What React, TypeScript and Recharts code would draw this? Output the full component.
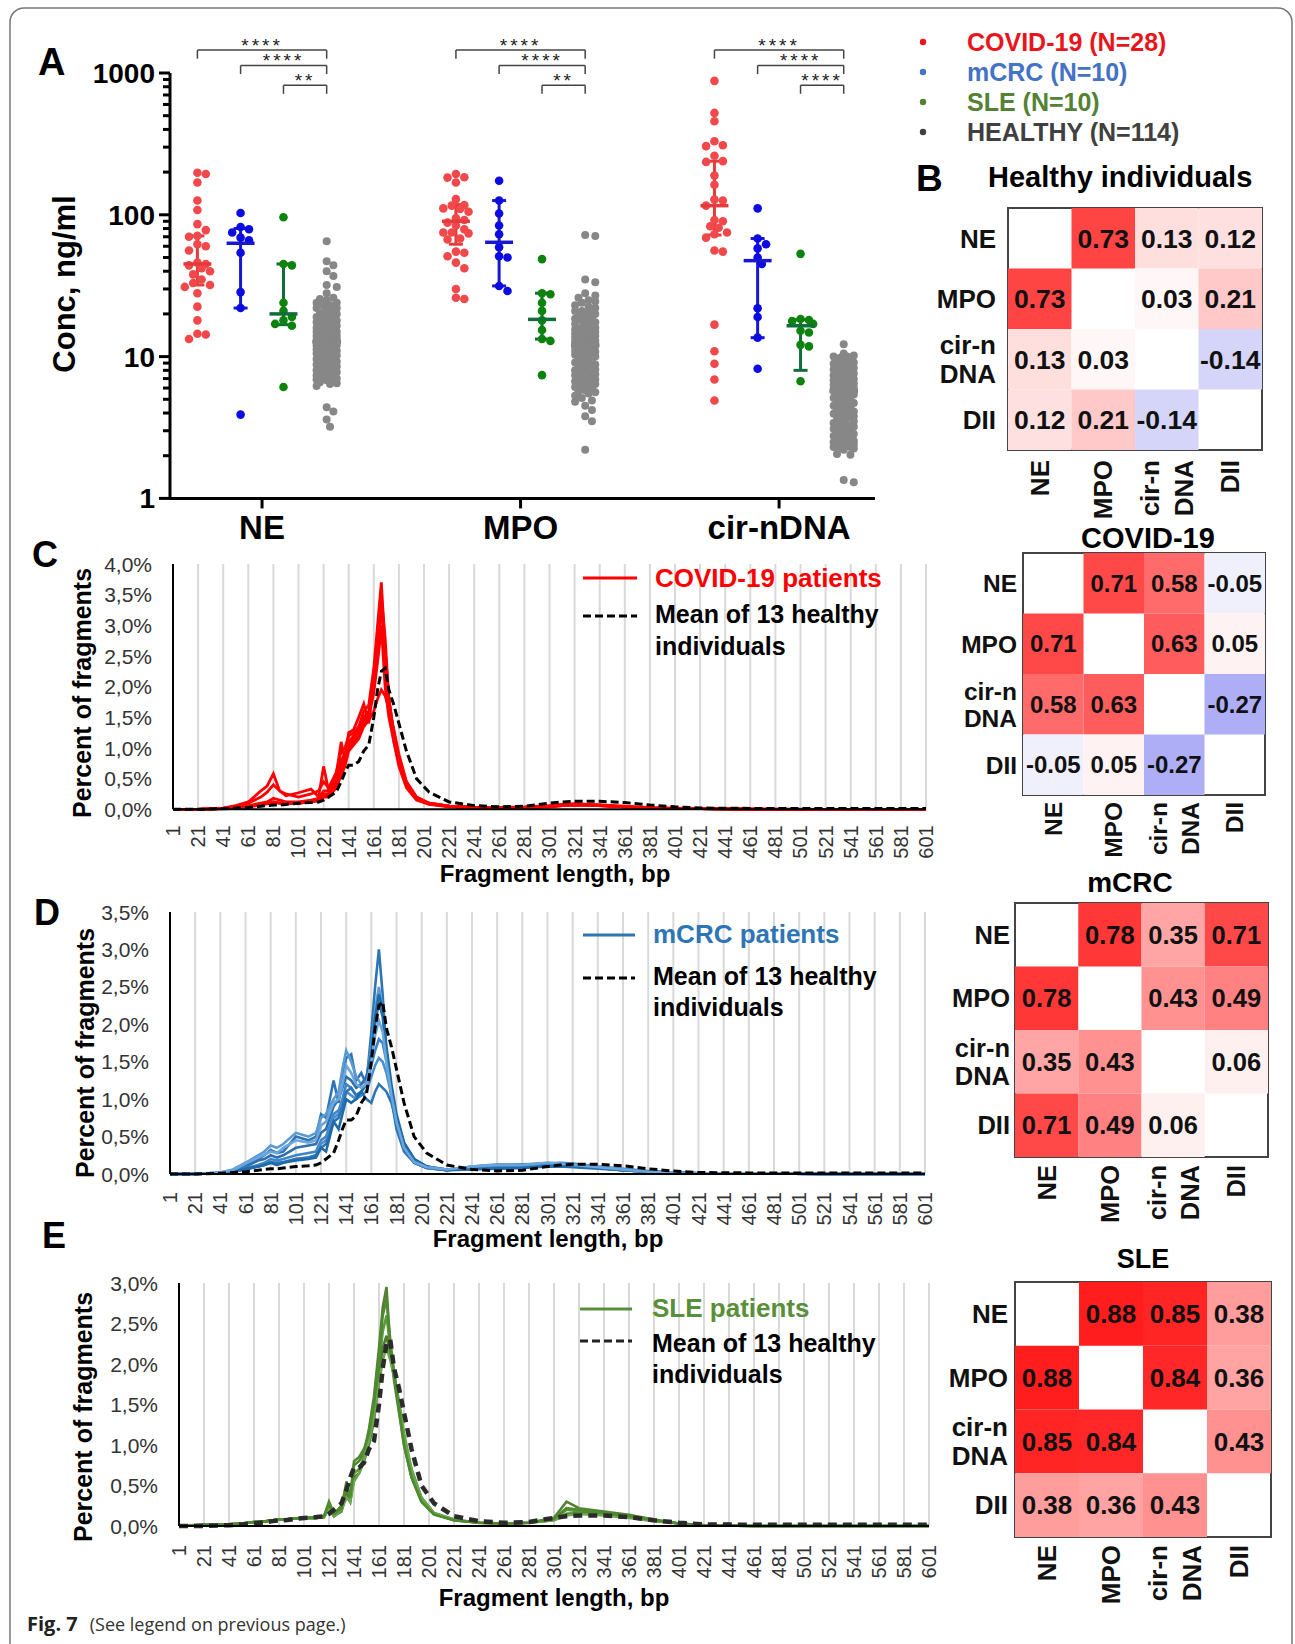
import React from 'react';
import {
  ScatterChart,
  Scatter,
  LineChart,
  Line,
  XAxis,
  YAxis,
  CartesianGrid,
  ErrorBar,
  ReferenceLine,
  ReferenceArea,
} from 'recharts';

const FONT = "'Liberation Sans', Arial, Helvetica, sans-serif";

// ---------------- Panel A: plasma concentrations (ng/ml) ----------------
const MARKERS = ['NE', 'MPO', 'cir-nDNA'];
const COHORTS = ['COVID-19 (N=28)', 'mCRC (N=10)', 'SLE (N=10)', 'HEALTHY (N=114)'];

const RED_NE = [198, 194, 169, 126, 108, 86, 78, 71, 70, 62, 60, 56, 46, 45, 44, 42, 40, 38, 35, 33, 32, 31, 28, 22.5, 18, 14.5, 14.3, 13.3];
const BLUE_NE = [103, 82, 79, 75, 69, 66, 54, 28.5, 22, 3.9];
const GREEN_NE = [96, 45, 44, 24, 21, 19, 18, 17, 16.5, 6.1];
const GRAY_NE = [
  65, 47, 44, 40, 37, 32, 31, 28, 26, 25.5, 25, 24, 24, 23, 23, 22, 22, 21, 21, 20.5,
  20, 20, 19.5, 19, 19, 18.5, 18, 18, 17.5, 17.5, 17, 17, 16.5, 16.5, 16, 16, 15.5, 15.5, 15, 15,
  15, 14.5, 14.5, 14, 14, 14, 13.8, 13.6, 13.5, 13.4, 13.2, 13.1, 13, 13, 12.9, 12.8, 12.8, 12.7, 12.7, 12.7,
  12.6, 12.5, 12.4, 12.3, 12.2, 12, 12, 11.8, 11.6, 11.5, 11.4, 11.2, 11, 11, 10.8, 10.6, 10.5, 10.4, 10.2, 10,
  10, 9.8, 9.6, 9.5, 9.4, 9.2, 9, 9, 8.8, 8.6, 8.5, 8.4, 8.2, 8, 8, 7.8, 7.7, 7.6, 7.5, 7.4,
  7.2, 7, 7, 6.9, 6.8, 6.7, 6.6, 6.5, 6.4, 6.2, 4.4, 4.1, 3.6, 3.2,
];

const RED_MPO = [194, 184, 183, 169, 129, 117, 116, 111, 110, 105, 95, 92, 88, 84, 79, 75, 75, 74, 68, 67, 55, 54, 51, 46, 42, 30, 26, 25.5];
const BLUE_MPO = [174, 126, 102, 84, 73, 59, 51, 50, 31.5, 29];
const GREEN_MPO = [48.7, 28, 27.5, 24, 21, 18, 15.4, 13.3, 12.9, 7.4];
const GRAY_MPO = [
  72, 71, 35, 33.5, 28, 27, 26, 25, 24.5, 24, 23, 22.5, 22, 21, 21, 20.5, 20, 19.5, 19, 19,
  18.5, 18, 18, 17.5, 17, 17, 16.5, 16, 16, 15.5, 15.5, 15, 15, 14.5, 14.5, 14, 14, 13.8, 13.6, 13.5,
  13.3, 13.2, 13, 13, 12.9, 12.8, 12.7, 12.6, 12.5, 12.4, 12.3, 12.2, 12.2, 12.1, 12, 12, 12, 11.9, 11.9, 11.8,
  11.7, 11.5, 11.4, 11.2, 11, 11, 10.8, 10.6, 10.5, 10.3, 10.1, 10, 9.8, 9.6, 9.5, 9.3, 9.1, 9, 8.8, 8.6,
  8.5, 8.3, 8.1, 8, 7.8, 7.7, 7.5, 7.4, 7.3, 7.1, 7, 6.9, 6.8, 6.7, 6.6, 6.5, 6.4, 6.3, 6.1, 6,
  5.9, 5.8, 5.7, 5.6, 5.5, 5.3, 5.1, 4.9, 4.8, 4.5, 4.2, 3.8, 3.5, 2.2,
];

const RED_CIR = [880, 523, 457, 330, 309, 305, 261, 239, 236, 189, 163, 128, 126, 116, 92, 90, 83, 81, 75, 73, 69, 56, 55, 16.8, 10.9, 8.9, 6.9, 4.9];
const BLUE_CIR = [111, 68, 62, 58, 50, 45, 21.9, 19, 13.6, 8.2];
const GREEN_CIR = [53, 18.4, 18.1, 17.8, 17, 15.2, 14.8, 12.1, 11.8, 6.7];
const GRAY_CIR = [
  12.2, 10.5, 10.2, 10, 10, 9.8, 9.6, 9.5, 9.3, 9.1, 9, 8.9, 8.8, 8.6, 8.5, 8.4, 8.3, 8.2, 8.1, 8,
  7.9, 7.8, 7.7, 7.6, 7.5, 7.4, 7.3, 7.2, 7.1, 7, 6.95, 6.9, 6.8, 6.75, 6.7, 6.6, 6.5, 6.45, 6.4, 6.3,
  6.25, 6.2, 6.1, 6.05, 6, 5.95, 5.9, 5.85, 5.8, 5.8, 5.75, 5.75, 5.7, 5.7, 5.7, 5.65, 5.6, 5.5, 5.4, 5.3,
  5.2, 5.1, 5, 4.9, 4.8, 4.7, 4.6, 4.5, 4.4, 4.35, 4.3, 4.2, 4.1, 4, 3.95, 3.9, 3.8, 3.7, 3.6, 3.55,
  3.5, 3.4, 3.3, 3.25, 3.2, 3.1, 3.05, 3, 2.95, 2.9, 2.85, 2.8, 2.75, 2.7, 2.65, 2.6, 2.55, 2.5, 2.5, 2.45,
  2.45, 2.4, 2.4, 2.35, 2.35, 2.3, 2.3, 2.3, 2.25, 2.2, 2.06, 2.03, 1.35, 1.3,
];

// median, lower and upper whisker as drawn
const SUMMARY_NE = [[45, 32, 71], [63, 22, 80], [20, 16.8, 45], [12.7, 9.5, 17]];
const SUMMARY_MPO = [[90, 62, 118], [64, 31.5, 126], [18.3, 13.3, 28], [12, 8.5, 16]];
const SUMMARY_CIR = [[116, 72, 239], [47.5, 13.6, 68], [16.5, 8, 18.2], [5.7, 3.8, 7.8]];

const STARS = [['****', '****', '**'], ['****', '****', '**'], ['****', '****', '****']];
const BRACKET_LEVELS = [1450, 1130, 820];
const LOG_TICKS = [
  1, 2, 3, 4, 5, 6, 7, 8, 9, 10, 20, 30, 40, 50, 60, 70, 80, 90,
  100, 200, 300, 400, 500, 600, 700, 800, 900, 1000,
];
const LOG_MAJOR = [1, 10, 100, 1000];

const CONC = [
  [RED_NE, BLUE_NE, GREEN_NE, GRAY_NE],
  [RED_MPO, BLUE_MPO, GREEN_MPO, GRAY_MPO],
  [RED_CIR, BLUE_CIR, GREEN_CIR, GRAY_CIR],
];
const SUMMARY = [SUMMARY_NE, SUMMARY_MPO, SUMMARY_CIR];

const DOT_COLORS = ['#f0484b', '#0c0ce2', '#0d830d', '#878787'];
const BAR_COLORS = ['#e63a3a', '#1818cc', '#0f6e3a', '#111111'];
const LEGEND_COLORS = ['#e8161c', '#4472c4', '#548235', '#404040'];
const COHORT_OFFSET = [-0.25, -0.083, 0.083, 0.25];

// ---------------- Panels C-E: fragment length profiles (% of fragments) ----------------
const BP = [
  1, 21, 41, 51, 61, 71, 76, 81,
  86, 91, 101, 111, 117, 121, 125, 131,
  135, 138, 141, 145, 149, 153, 157, 161,
  164, 167, 170, 173, 177, 181, 187, 195,
  205, 221, 241, 261, 281, 301, 311, 321,
  341, 361, 381, 401, 421, 461, 521, 601,
];
const BP_TICKS = [1, 21, 41, 61, 81, 101, 121, 141, 161, 181, 201, 221, 241, 261, 281, 301, 321, 341, 361, 381, 401, 421, 441, 461, 481, 501, 521, 541, 561, 581, 601];

const HEALTHY_MEAN = [
  0, 0, 0.01, 0.02, 0.03, 0.05, 0.06, 0.07,
  0.07, 0.08, 0.1, 0.11, 0.12, 0.15, 0.2, 0.28,
  0.45, 0.6, 0.72, 0.72, 0.78, 0.95, 1.05, 1.5,
  1.95, 2.25, 2.3, 1.95, 1.7, 1.4, 0.95, 0.5,
  0.28, 0.12, 0.06, 0.04, 0.05, 0.1, 0.12, 0.13,
  0.13, 0.11, 0.07, 0.04, 0.02, 0.015, 0.015, 0.015,
];

const COVID_1 = [
  0, 0, 0.02, 0.06, 0.12, 0.3, 0.38, 0.58,
  0.3, 0.22, 0.27, 0.33, 0.2, 0.7, 0.3, 0.55,
  1.1, 0.8, 1.25, 1.3, 1.5, 1.72, 1.4, 2.2,
  2.6, 3.0, 2.0, 1.5, 1.1, 0.75, 0.45, 0.2,
  0.1, 0.05, 0.03, 0.03, 0.04, 0.06, 0.08, 0.09,
  0.07, 0.05, 0.03, 0.02, 0.01, 0.01, 0, 0,
];
const COVID_2 = [
  0, 0, 0.02, 0.05, 0.1, 0.2, 0.28, 0.4,
  0.3, 0.25, 0.2, 0.25, 0.3, 0.45, 0.35, 0.6,
  0.95, 1.0, 1.2, 1.25, 1.35, 1.6, 1.7, 2.3,
  3.0, 3.7, 2.6, 1.7, 1.1, 0.7, 0.35, 0.15,
  0.08, 0.04, 0.02, 0.02, 0.03, 0.05, 0.07, 0.08,
  0.06, 0.04, 0.02, 0.01, 0.01, 0, 0, 0,
];
const COVID_3 = [
  0, 0, 0.01, 0.03, 0.06, 0.1, 0.12, 0.18,
  0.15, 0.12, 0.12, 0.15, 0.18, 0.3, 0.3, 0.45,
  0.8, 0.9, 1.1, 1.2, 1.3, 1.5, 1.6, 2.1,
  2.8, 3.5, 2.8, 1.8, 1.2, 0.8, 0.4, 0.18,
  0.1, 0.05, 0.03, 0.02, 0.03, 0.05, 0.07, 0.09,
  0.07, 0.04, 0.02, 0.01, 0.01, 0, 0, 0,
];
const COVID_4 = [
  0, 0, 0.01, 0.03, 0.05, 0.08, 0.1, 0.12,
  0.1, 0.1, 0.1, 0.12, 0.15, 0.25, 0.25, 0.4,
  0.7, 0.85, 1.05, 1.15, 1.25, 1.45, 1.55, 2.0,
  2.6, 3.3, 2.6, 1.8, 1.2, 0.75, 0.38, 0.17,
  0.09, 0.05, 0.03, 0.02, 0.03, 0.05, 0.06, 0.08,
  0.06, 0.04, 0.02, 0.01, 0.01, 0, 0, 0,
];
const COVID_5 = [
  0, 0, 0.01, 0.02, 0.05, 0.08, 0.1, 0.12,
  0.1, 0.1, 0.1, 0.12, 0.15, 0.22, 0.22, 0.38,
  0.6, 0.75, 1.0, 1.1, 1.2, 1.4, 1.5, 1.9,
  2.4, 2.95, 2.5, 1.8, 1.25, 0.8, 0.4, 0.18,
  0.09, 0.05, 0.03, 0.02, 0.03, 0.04, 0.06, 0.07,
  0.06, 0.04, 0.02, 0.01, 0.01, 0, 0, 0,
];
const COVID_6 = [
  0, 0, 0.01, 0.02, 0.04, 0.07, 0.09, 0.11,
  0.1, 0.09, 0.1, 0.12, 0.14, 0.2, 0.2, 0.35,
  0.55, 0.7, 0.95, 1.05, 1.15, 1.35, 1.45, 1.6,
  1.8, 1.95, 1.85, 1.65, 1.3, 0.9, 0.45, 0.2,
  0.1, 0.05, 0.03, 0.02, 0.03, 0.04, 0.06, 0.07,
  0.06, 0.04, 0.02, 0.01, 0.01, 0, 0, 0,
];

const MCRC_1 = [
  0, 0, 0.02, 0.05, 0.12, 0.2, 0.25, 0.32,
  0.28, 0.3, 0.5, 0.45, 0.5, 0.8, 0.75, 1.25,
  0.95, 1.3, 1.55, 1.6, 1.25, 1.35, 1.2, 1.9,
  2.5, 3.0, 2.4, 1.6, 1.0, 0.6, 0.3, 0.15,
  0.08, 0.05, 0.1, 0.12, 0.13, 0.14, 0.15, 0.14,
  0.1, 0.07, 0.04, 0.02, 0.01, 0.01, 0, 0,
];
const MCRC_2 = [
  0, 0, 0.02, 0.06, 0.15, 0.25, 0.3, 0.38,
  0.35, 0.4, 0.55, 0.5, 0.55, 0.75, 0.8, 1.0,
  1.1, 1.4, 1.65, 1.5, 1.3, 1.2, 1.25, 1.7,
  2.2, 2.5, 2.2, 1.6, 1.1, 0.7, 0.35, 0.15,
  0.08, 0.05, 0.1, 0.13, 0.12, 0.15, 0.14, 0.13,
  0.1, 0.06, 0.03, 0.02, 0.01, 0.01, 0, 0,
];
const MCRC_3 = [
  0, 0, 0.01, 0.04, 0.1, 0.18, 0.2, 0.25,
  0.22, 0.25, 0.35, 0.38, 0.4, 0.55, 0.6, 0.9,
  1.0, 1.15, 1.3, 1.25, 1.15, 1.2, 1.3, 1.6,
  2.0, 2.3, 2.1, 1.6, 1.1, 0.7, 0.35, 0.15,
  0.08, 0.05, 0.08, 0.1, 0.1, 0.12, 0.12, 0.11,
  0.08, 0.05, 0.03, 0.02, 0.01, 0.01, 0, 0,
];
const MCRC_4 = [
  0, 0, 0.01, 0.03, 0.08, 0.12, 0.15, 0.2,
  0.18, 0.2, 0.25, 0.28, 0.3, 0.45, 0.5, 0.8,
  0.85, 1.0, 1.2, 1.15, 1.05, 1.1, 1.2, 1.45,
  1.65, 1.8, 1.75, 1.5, 1.1, 0.75, 0.4, 0.18,
  0.1, 0.05, 0.08, 0.1, 0.1, 0.12, 0.12, 0.1,
  0.08, 0.05, 0.03, 0.02, 0.01, 0.01, 0, 0,
];
const MCRC_5 = [
  0, 0, 0.01, 0.03, 0.06, 0.1, 0.12, 0.15,
  0.14, 0.15, 0.2, 0.22, 0.25, 0.4, 0.45, 0.75,
  0.8, 0.95, 1.1, 1.05, 1.0, 1.05, 1.1, 1.3,
  1.45, 1.55, 1.5, 1.35, 1.05, 0.75, 0.42, 0.2,
  0.1, 0.06, 0.07, 0.08, 0.09, 0.1, 0.11, 0.1,
  0.08, 0.05, 0.03, 0.02, 0.01, 0.01, 0, 0,
];
const MCRC_6 = [
  0, 0, 0.01, 0.03, 0.06, 0.1, 0.12, 0.16,
  0.15, 0.16, 0.2, 0.22, 0.25, 0.35, 0.4, 0.7,
  0.75, 0.9, 1.1, 1.15, 1.05, 1.1, 1.0, 0.95,
  1.1, 1.2, 1.15, 1.1, 0.95, 0.7, 0.4, 0.2,
  0.1, 0.06, 0.07, 0.08, 0.09, 0.1, 0.1, 0.09,
  0.07, 0.05, 0.03, 0.02, 0.01, 0.01, 0, 0,
];
const MCRC_7 = [
  0, 0, 0.01, 0.03, 0.07, 0.1, 0.12, 0.15,
  0.12, 0.15, 0.18, 0.2, 0.22, 0.35, 0.3, 0.7,
  0.6, 0.8, 1.0, 0.95, 1.0, 1.1, 1.2, 1.6,
  2.1, 2.4, 2.2, 1.7, 1.2, 0.8, 0.42, 0.2,
  0.1, 0.05, 0.06, 0.07, 0.08, 0.1, 0.1, 0.1,
  0.08, 0.05, 0.03, 0.02, 0.01, 0.01, 0, 0,
];
const MCRC_8 = [
  0, 0, 0.02, 0.05, 0.14, 0.22, 0.26, 0.3,
  0.28, 0.35, 0.45, 0.42, 0.45, 0.65, 0.7, 0.95,
  1.0, 1.2, 1.45, 1.35, 1.2, 1.15, 1.2, 1.5,
  1.85, 2.05, 1.9, 1.5, 1.05, 0.7, 0.35, 0.16,
  0.09, 0.06, 0.1, 0.12, 0.12, 0.15, 0.14, 0.12,
  0.09, 0.06, 0.03, 0.02, 0.01, 0.01, 0, 0,
];

const SLE_1 = [
  0, 0.02, 0.02, 0.03, 0.05, 0.06, 0.07, 0.08,
  0.08, 0.09, 0.1, 0.1, 0.11, 0.28, 0.15, 0.25,
  0.5, 0.35, 0.75, 0.8, 0.9, 1.2, 1.6, 2.2,
  2.7, 2.95, 2.2, 1.8, 1.4, 1.0, 0.6, 0.3,
  0.15, 0.07, 0.04, 0.03, 0.04, 0.1, 0.3, 0.22,
  0.18, 0.14, 0.08, 0.03, 0.01, 0, 0, 0,
];
const SLE_2 = [
  0, 0.01, 0.02, 0.03, 0.05, 0.06, 0.07, 0.08,
  0.08, 0.09, 0.1, 0.1, 0.12, 0.25, 0.12, 0.2,
  0.45, 0.3, 0.65, 0.7, 0.85, 1.1, 1.4, 2.0,
  2.4, 2.6, 2.2, 1.9, 1.5, 1.1, 0.65, 0.32,
  0.15, 0.07, 0.04, 0.03, 0.04, 0.08, 0.2, 0.18,
  0.15, 0.12, 0.07, 0.03, 0.01, 0, 0, 0,
];
const SLE_3 = [
  0, 0.01, 0.02, 0.03, 0.05, 0.06, 0.07, 0.08,
  0.08, 0.09, 0.1, 0.1, 0.11, 0.22, 0.12, 0.18,
  0.4, 0.3, 0.6, 0.65, 0.8, 1.0, 1.3, 1.8,
  2.2, 2.35, 2.1, 1.85, 1.5, 1.1, 0.7, 0.35,
  0.16, 0.08, 0.04, 0.03, 0.04, 0.07, 0.15, 0.16,
  0.14, 0.11, 0.07, 0.03, 0.01, 0, 0, 0,
];
const SLE_4 = [
  0, 0.01, 0.02, 0.03, 0.05, 0.06, 0.07, 0.08,
  0.08, 0.09, 0.1, 0.1, 0.11, 0.2, 0.12, 0.2,
  0.35, 0.3, 0.55, 0.65, 0.8, 1.05, 1.35, 1.75,
  2.05, 2.2, 2.05, 1.85, 1.55, 1.15, 0.7, 0.35,
  0.16, 0.08, 0.04, 0.03, 0.04, 0.07, 0.13, 0.15,
  0.13, 0.1, 0.06, 0.03, 0.01, 0, 0, 0,
];
const SLE_5 = [
  0, 0.01, 0.02, 0.03, 0.05, 0.06, 0.07, 0.08,
  0.08, 0.09, 0.1, 0.1, 0.12, 0.3, 0.15, 0.22,
  0.55, 0.35, 0.8, 0.85, 0.95, 1.15, 1.5, 2.1,
  2.6, 2.8, 2.3, 1.9, 1.45, 1.0, 0.6, 0.3,
  0.14, 0.07, 0.04, 0.03, 0.04, 0.09, 0.22, 0.2,
  0.16, 0.12, 0.07, 0.03, 0.01, 0, 0, 0,
];

const C_TICKS = [0, 0.5, 1, 1.5, 2, 2.5, 3, 3.5, 4];
const D_TICKS = [0, 0.5, 1, 1.5, 2, 2.5, 3, 3.5];
const E_TICKS = [0, 0.5, 1, 1.5, 2, 2.5, 3];

// ---------------- Panel B: correlation matrices ----------------
const HEAT_LABELS = ['NE', 'MPO', 'cir-n\nDNA', 'DII'];
const R_HEALTHY = [
  [null, 0.73, 0.13, 0.12],
  [0.73, null, 0.03, 0.21],
  [0.13, 0.03, null, -0.14],
  [0.12, 0.21, -0.14, null],
];
const R_COVID = [
  [null, 0.71, 0.58, -0.05],
  [0.71, null, 0.63, 0.05],
  [0.58, 0.63, null, -0.27],
  [-0.05, 0.05, -0.27, null],
];
const R_MCRC = [
  [null, 0.78, 0.35, 0.71],
  [0.78, null, 0.43, 0.49],
  [0.35, 0.43, null, 0.06],
  [0.71, 0.49, 0.06, null],
];
const R_SLE = [
  [null, 0.88, 0.85, 0.38],
  [0.88, null, 0.84, 0.36],
  [0.85, 0.84, null, 0.43],
  [0.38, 0.36, 0.43, null],
];

// ---------------- helpers ----------------
function marginsFor(box: any, plot: any, yW: number, xH: number) {
  return {
    left: plot.l - box.l - yW,
    top: plot.t - box.t,
    right: box.l + box.w - plot.r,
    bottom: box.t + box.h - plot.b - xH,
  };
}

// simple beeswarm (like Prism's scatter dot plot): spread points that would overlap
const PX_PER_X = 258.5;
const PX_PER_DECADE = 141.8;
const DOT_D = 8.4;
function swarm(values: number[], center: number, spread: number) {
  const order = values.map((_, i) => i).sort((a, b) => values[b] - values[a]);
  const placed: { dx: number; py: number }[] = [];
  const out: any[] = new Array(values.length);
  const offsets = [0, 1, -1, 2, -2, 3, -3].map((k) => k * DOT_D * spread);
  for (const i of order) {
    const py = Math.log10(values[i]) * PX_PER_DECADE;
    let best = 0;
    let bestScore = -1;
    for (const dx of offsets) {
      let minD = Infinity;
      for (const p of placed) {
        const d = Math.hypot(p.dx - dx, p.py - py);
        if (d < minD) minD = d;
      }
      if (minD >= DOT_D * 0.9) {
        best = dx;
        break;
      }
      if (minD > bestScore) {
        bestScore = minD;
        best = dx;
      }
    }
    placed.push({ dx: best, py });
    out[i] = { x: center + best / PX_PER_X, y: values[i] };
  }
  return out;
}

function heatColor(v: number) {
  if (v >= 0) {
    const t = Math.min(v / 0.9, 1);
    const g = Math.round(255 - t * 231);
    return `rgb(255,${g},${g})`;
  }
  const t = Math.min(-v / 0.45, 1);
  const c = Math.round(255 - t * 135);
  return `rgb(${c},${c},${Math.round(255 - t * 15)})`;
}

const fmtPct = (v: number) => v.toFixed(1).replace('.', ',') + '%';

// ---------------- ticks ----------------
const LogTick = (p: any) => {
  const v = p.payload.value;
  const major = LOG_MAJOR.includes(v);
  return (
    <g>
      <line x1={p.x - (major ? 11 : 7)} x2={p.x} y1={p.y} y2={p.y} stroke="#000" strokeWidth={3} />
      {major && (
        <text x={p.x - 15} y={p.y} dy="0.36em" textAnchor="end" fontSize={28} fontWeight={700} fill="#000">
          {v}
        </text>
      )}
    </g>
  );
};

const PctTick = (p: any) => (
  <text x={p.x - 21} y={p.y} dy="0.36em" textAnchor="end" fontSize={21} fill="#333">
    {fmtPct(p.payload.value)}
  </text>
);

const BpTick = (p: any) => {
  const ty = p.y + p.gap;
  return (
    <text transform={`rotate(-90 ${p.x} ${ty})`} x={p.x} y={ty} textAnchor="end" dominantBaseline="central" fontSize={20} fill="#333">
      {p.payload.value}
    </text>
  );
};

const HeatRowTick = (p: any) => {
  const lines = HEAT_LABELS[Math.floor(p.payload.value)].split('\n');
  return (
    <text textAnchor="end" fontSize={p.fs} fontWeight={700} fill="#111">
      {lines.map((ln: string, i: number) => (
        <tspan key={i} x={p.x - p.gap} y={p.y + (i - (lines.length - 1) / 2) * p.fs * 1.1} dy="0.36em">
          {ln}
        </tspan>
      ))}
    </text>
  );
};

const HeatColTick = (p: any) => {
  const lines = HEAT_LABELS[Math.floor(p.payload.value)].split('\n');
  const ty = p.y + p.gap;
  return (
    <g>
      {lines.map((ln: string, i: number) => {
        const cx = p.x + (i - (lines.length - 1) / 2) * p.fs * 1.3;
        return (
          <text key={i} transform={`rotate(-90 ${cx} ${ty})`} x={cx} y={ty} textAnchor="end" dominantBaseline="central" fontSize={p.fs} fontWeight={700} fill="#111">
            {ln}
          </text>
        );
      })}
    </g>
  );
};

// ---------------- Panel A ----------------
function ConcentrationPanel() {
  const box = { l: 0, t: 0, w: 900, h: 565 };
  const plot = { l: 170, t: 73, r: 875, b: 498.4 };
  const yW = 100;
  const xH = 60;
  const margin = marginsFor(box, plot, yW, xH);

  const layers: React.ReactNode[] = [];
  MARKERS.forEach((_, gi) => {
    [3, 0, 1, 2].forEach((ci) => {
      const cx = gi + 1 + COHORT_OFFSET[ci];
      const [med, lo, hi] = SUMMARY[gi][ci];
      const summary = (
        <Scatter
          key={`s${gi}${ci}`}
          data={[{ x: cx, y: med, err: [med - lo, hi - med] }]}
          isAnimationActive={false}
          shape={(p: any) => (
            <line x1={p.cx - 14} x2={p.cx + 14} y1={p.cy} y2={p.cy} stroke={BAR_COLORS[ci]} strokeWidth={3.5} />
          )}
        >
          <ErrorBar dataKey="err" direction="y" width={7} stroke={BAR_COLORS[ci]} strokeWidth={3} isAnimationActive={false} />
        </Scatter>
      );
      const dots = (
        <Scatter
          key={`d${gi}${ci}`}
          data={swarm(CONC[gi][ci], cx, ci === 3 ? 0.4 : 0.5)}
          isAnimationActive={false}
          shape={(p: any) => <circle cx={p.cx} cy={p.cy} r={ci === 3 ? 4 : 4.3} fill={DOT_COLORS[ci]} />}
        />
      );
      if (ci === 3) layers.push(summary, dots);
      else layers.push(dots, summary);
    });
    BRACKET_LEVELS.forEach((lvl, bi) => {
      const x1 = gi + 1 + COHORT_OFFSET[bi];
      const x2 = gi + 1 + COHORT_OFFSET[3];
      const foot = lvl * 0.87;
      layers.push(
        <ReferenceLine key={`bl${gi}${bi}`} segment={[{ x: x1, y: foot }, { x: x1, y: lvl }]} stroke="#444" strokeWidth={1.5} ifOverflow="visible" />,
        <ReferenceLine
          key={`bh${gi}${bi}`}
          segment={[{ x: x1, y: lvl }, { x: x2, y: lvl }]}
          stroke="#444"
          strokeWidth={1.5}
          ifOverflow="visible"
          label={{ value: STARS[gi][bi], position: 'top', offset: -2, fontSize: 19, fill: '#222', letterSpacing: 3 }}
        />,
        <ReferenceLine key={`br${gi}${bi}`} segment={[{ x: x2, y: foot }, { x: x2, y: lvl }]} stroke="#444" strokeWidth={1.5} ifOverflow="visible" />
      );
    });
  });

  return (
    <div style={{ position: 'absolute', left: box.l, top: box.t }}>
      <ScatterChart width={box.w} height={box.h} margin={margin}>
        <XAxis
          type="number"
          dataKey="x"
          domain={[0.644, 3.371]}
          ticks={[1, 2, 3]}
          interval={0}
          height={xH}
          tickFormatter={(v: number) => MARKERS[v - 1]}
          axisLine={{ stroke: '#000', strokeWidth: 3 }}
          tickLine={{ stroke: '#000', strokeWidth: 3 }}
          tickSize={10}
          tickMargin={7}
          tick={{ fontSize: 33, fontWeight: 700, fill: '#000' }}
        />
        <YAxis
          type="number"
          dataKey="y"
          scale="log"
          domain={[1, 1000]}
          ticks={LOG_TICKS}
          interval={0}
          width={yW}
          axisLine={{ stroke: '#000', strokeWidth: 3 }}
          tickLine={false}
          tickSize={0}
          tickMargin={0}
          tick={(p: any) => <LogTick {...p} />}
        />
        {layers}
      </ScatterChart>
    </div>
  );
}

// ---------------- Panels C-E ----------------
function FragmentPanel({ box, plot, yTicks, series, colors, lineWidth, dash, tickGap }: any) {
  const yW = 80;
  const xH = 60;
  const margin = marginsFor(box, plot, yW, xH);
  const data = BP.map((bp, i) => {
    const row: any = { bp, mean: HEALTHY_MEAN[i] };
    series.forEach((s: number[], k: number) => {
      row['p' + k] = s[i];
    });
    return row;
  });
  return (
    <div style={{ position: 'absolute', left: box.l, top: box.t }}>
      <LineChart width={box.w} height={box.h} data={data} margin={margin}>
        <CartesianGrid horizontal={false} stroke="#d9d9d9" strokeWidth={2} />
        <XAxis
          type="number"
          dataKey="bp"
          domain={[1, 601]}
          ticks={BP_TICKS}
          interval={0}
          height={xH}
          axisLine={{ stroke: '#000', strokeWidth: 2 }}
          tickLine={false}
          tickSize={0}
          tickMargin={0}
          tick={(p: any) => <BpTick {...p} gap={tickGap} />}
        />
        <YAxis
          type="number"
          domain={[0, yTicks[yTicks.length - 1]]}
          ticks={yTicks}
          interval={0}
          width={yW}
          axisLine={{ stroke: '#000', strokeWidth: 2 }}
          tickLine={false}
          tickSize={0}
          tickMargin={0}
          tick={(p: any) => <PctTick {...p} />}
        />
        {series.map((_: any, k: number) => (
          <Line key={k} type="linear" dataKey={'p' + k} stroke={colors[k % colors.length]} strokeWidth={lineWidth} dot={false} isAnimationActive={false} />
        ))}
        <Line type="linear" dataKey="mean" stroke={dash.color} strokeWidth={dash.width} strokeDasharray={dash.array} dot={false} isAnimationActive={false} />
      </LineChart>
    </div>
  );
}

// ---------------- Panel B heatmaps ----------------
function Heatmap({ box, grid, values, fs, labelFs, rowGap, colGap }: any) {
  const xH = 75;
  const yW = grid.l - box.l;
  const margin = { left: 0, top: grid.t - box.t, right: box.l + box.w - grid.r, bottom: box.t + box.h - grid.b - xH };
  const cw = (grid.r - grid.l) / 4;
  const ch = (grid.b - grid.t) / 4;
  const cells: any[] = [];
  values.forEach((row: (number | null)[], r: number) =>
    row.forEach((v, c) => {
      if (v !== null) cells.push({ c: c + 0.5, r: r + 0.5, v });
    })
  );
  return (
    <div style={{ position: 'absolute', left: box.l, top: box.t }}>
      <ScatterChart width={box.w} height={box.h} margin={margin}>
        <XAxis
          type="number"
          dataKey="c"
          domain={[0, 4]}
          ticks={[0.5, 1.5, 2.5, 3.5]}
          interval={0}
          height={xH}
          axisLine={false}
          tickLine={false}
          tickSize={0}
          tickMargin={0}
          tick={(p: any) => <HeatColTick {...p} fs={labelFs} gap={colGap} />}
        />
        <YAxis
          type="number"
          dataKey="r"
          domain={[0, 4]}
          reversed
          ticks={[0.5, 1.5, 2.5, 3.5]}
          interval={0}
          width={yW}
          axisLine={false}
          tickLine={false}
          tickSize={0}
          tickMargin={0}
          tick={(p: any) => <HeatRowTick {...p} fs={labelFs} gap={rowGap} />}
        />
        <Scatter
          data={cells}
          isAnimationActive={false}
          shape={(p: any) => (
            <g>
              <rect x={p.cx - cw / 2} y={p.cy - ch / 2} width={cw} height={ch} fill={heatColor(p.payload.v)} />
              <text x={p.cx} y={p.cy} dy="0.36em" textAnchor="middle" fontSize={fs} fontWeight={700} fill="#111">
                {p.payload.v.toFixed(2)}
              </text>
            </g>
          )}
        />
        <ReferenceArea x1={0} x2={4} y1={0} y2={4} fill="none" fillOpacity={0} stroke="#444" strokeWidth={2} ifOverflow="visible" />
      </ScatterChart>
    </div>
  );
}

// ---------------- page-level text, legends, frame ----------------
function Overlay() {
  const legendRows = [42, 72, 102, 132];
  return (
    <svg width={1295} height={1644} style={{ position: 'absolute', left: 0, top: 0, pointerEvents: 'none' }} fontFamily={FONT}>
      <rect x={10} y={8} width={1282} height={1660} rx={14} fill="none" stroke="#777" strokeWidth={1.5} />

      <text x={38} y={75} fontSize={38} fontWeight={700}>A</text>
      <text transform="rotate(-90 64 284)" x={64} y={284} textAnchor="middle" dominantBaseline="central" fontSize={31} fontWeight={700}>
        Conc, ng/ml
      </text>
      {COHORTS.map((c, i) => (
        <g key={c}>
          <circle cx={923} cy={legendRows[i]} r={3.2} fill={LEGEND_COLORS[i]} />
          <text x={967} y={legendRows[i] + 9} fontSize={25} fontWeight={700} fill={LEGEND_COLORS[i]}>{c}</text>
        </g>
      ))}

      <text x={916} y={191} fontSize={37} fontWeight={700}>B</text>
      <text x={988} y={187} fontSize={29} fontWeight={700}>Healthy individuals</text>
      <text x={1148} y={548} textAnchor="middle" fontSize={29} fontWeight={700}>COVID-19</text>
      <text x={1130} y={892} textAnchor="middle" fontSize={28} fontWeight={700}>mCRC</text>
      <text x={1143} y={1268} textAnchor="middle" fontSize={27} fontWeight={700}>SLE</text>

      <text x={32} y={567} fontSize={36} fontWeight={700}>C</text>
      <text x={34} y={925} fontSize={36} fontWeight={700}>D</text>
      <text x={42} y={1248} fontSize={36} fontWeight={700}>E</text>

      {[
        [82, 693],
        [85, 1053],
        [83, 1417],
      ].map(([x, y]) => (
        <text key={y} transform={`rotate(-90 ${x} ${y})`} x={x} y={y} textAnchor="middle" dominantBaseline="central" fontSize={25} fontWeight={700}>
          Percent of fragments
        </text>
      ))}
      {[
        [555, 882],
        [548, 1247],
        [554, 1606],
      ].map(([x, y]) => (
        <text key={y} x={x} y={y} textAnchor="middle" fontSize={24} fontWeight={700}>
          Fragment length, bp
        </text>
      ))}

      <line x1={583} x2={637} y1={578} y2={578} stroke="#ff0000" strokeWidth={3} />
      <text x={655} y={587} fontSize={26} fontWeight={700} fill="#ff0000">COVID-19 patients</text>
      <line x1={583} x2={637} y1={616} y2={616} stroke="#000" strokeWidth={3} strokeDasharray="8 4" />
      <text x={655} y={623} fontSize={25} fontWeight={700}>Mean of 13 healthy</text>
      <text x={655} y={655} fontSize={25} fontWeight={700}>individuals</text>

      <line x1={583} x2={635} y1={935} y2={935} stroke="#2e75b6" strokeWidth={3} />
      <text x={653} y={943} fontSize={26} fontWeight={700} fill="#2e75b6">mCRC patients</text>
      <line x1={583} x2={635} y1={978} y2={978} stroke="#000" strokeWidth={3} strokeDasharray="8 4" />
      <text x={653} y={985} fontSize={25} fontWeight={700}>Mean of 13 healthy</text>
      <text x={653} y={1016} fontSize={25} fontWeight={700}>individuals</text>

      <line x1={580} x2={632} y1={1309} y2={1309} stroke="#5a8f3a" strokeWidth={3} />
      <text x={652} y={1317} fontSize={26} fontWeight={700} fill="#5a8f3a">SLE patients</text>
      <line x1={580} x2={632} y1={1341} y2={1341} stroke="#222" strokeWidth={3} strokeDasharray="8 4" />
      <text x={652} y={1352} fontSize={25} fontWeight={700}>Mean of 13 healthy</text>
      <text x={652} y={1383} fontSize={25} fontWeight={700}>individuals</text>

      <text x={27} y={1631} fontFamily="'Open Sans', sans-serif" fill="#222">
        <tspan fontSize={20} fontWeight={700}>Fig. 7</tspan>
        <tspan fontSize={18} fill="#333" dx={12}>(See legend on previous page.)</tspan>
      </text>
    </svg>
  );
}

export default function App() {
  return (
    <div style={{ position: 'absolute', left: 0, top: 0, width: 1295, height: 1644, background: '#fff', fontFamily: FONT, overflow: 'hidden' }}>
      <ConcentrationPanel />

      <Heatmap box={{ l: 890, t: 200, w: 400, h: 330 }} grid={{ l: 1008, t: 208, r: 1262, b: 450 }} values={R_HEALTHY} fs={26.5} labelFs={26} rowGap={12} colGap={10} />
      <Heatmap box={{ l: 900, t: 550, w: 395, h: 328 }} grid={{ l: 1023, t: 553, r: 1265, b: 795 }} values={R_COVID} fs={24} labelFs={24.5} rowGap={6} colGap={7} />
      <Heatmap box={{ l: 900, t: 897, w: 395, h: 343 }} grid={{ l: 1015, t: 903, r: 1268, b: 1157 }} values={R_MCRC} fs={25.5} labelFs={25.5} rowGap={5} colGap={8} />
      <Heatmap box={{ l: 900, t: 1275, w: 395, h: 345 }} grid={{ l: 1015, t: 1282, r: 1271, b: 1537 }} values={R_SLE} fs={26} labelFs={26} rowGap={7} colGap={8} />

      <FragmentPanel
        box={{ l: 0, t: 530, w: 960, h: 370 }}
        plot={{ l: 173, t: 564, r: 926, b: 809.3 }}
        yTicks={C_TICKS}
        series={[COVID_1, COVID_2, COVID_3, COVID_4, COVID_5, COVID_6]}
        colors={['#ff0000']}
        lineWidth={2.8}
        dash={{ color: '#000', width: 3, array: '8 4' }}
        tickGap={16}
      />
      <FragmentPanel
        box={{ l: 0, t: 880, w: 960, h: 370 }}
        plot={{ l: 170, t: 912, r: 925, b: 1174 }}
        yTicks={D_TICKS}
        series={[MCRC_1, MCRC_2, MCRC_3, MCRC_4, MCRC_5, MCRC_6, MCRC_7, MCRC_8]}
        colors={['#2e75b6', '#5b9bd5', '#2f6fad', '#3d85c6', '#4a8fd0', '#2e75b6', '#1f6aa8', '#6aa6dc']}
        lineWidth={2.6}
        dash={{ color: '#000', width: 3, array: '8 4' }}
        tickGap={18}
      />
      <FragmentPanel
        box={{ l: 0, t: 1250, w: 960, h: 340 }}
        plot={{ l: 179, t: 1283, r: 929, b: 1526 }}
        yTicks={E_TICKS}
        series={[SLE_1, SLE_2, SLE_3, SLE_4, SLE_5]}
        colors={['#548235', '#5e9a3c', '#4f7a30', '#6aa84f', '#4e8a2e']}
        lineWidth={2.6}
        dash={{ color: '#2b2b2b', width: 4.5, array: '9 6' }}
        tickGap={19}
      />

      <Overlay />
    </div>
  );
}
